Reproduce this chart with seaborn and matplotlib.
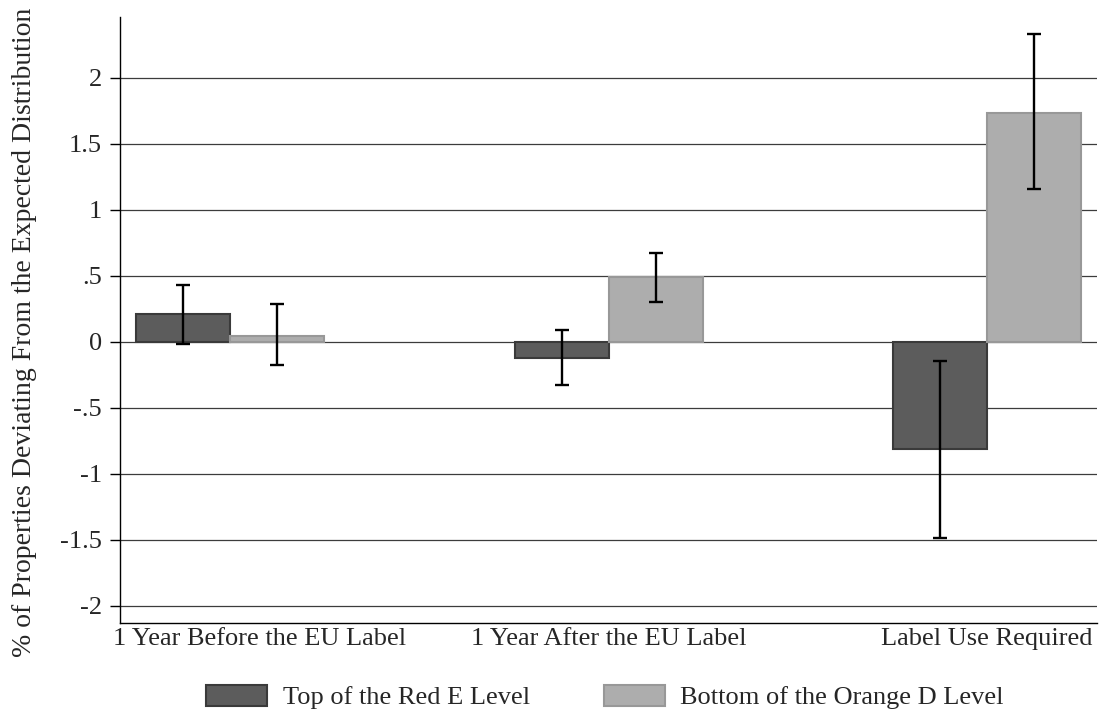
import numpy as np
import pandas as pd
import matplotlib
matplotlib.use("Agg")
import matplotlib.pyplot as plt
import matplotlib.transforms as mtransforms
import seaborn as sns

# datos
periodos = ["1 Year Before the EU Label", "1 Year After the EU Label", "Label Use Required"]
niveles = ["Top of the Red E Level", "Bottom of the Orange D Level"]

red_e = [0.21, -0.12, -0.81]
red_e_lo = [-0.015, -0.33, -1.49]
red_e_hi = [0.43, 0.085, -0.15]

orange_d = [0.045, 0.49, 1.735]
orange_d_lo = [-0.18, 0.30, 1.155]
orange_d_hi = [0.285, 0.675, 2.33]

yticks = [-2, -1.5, -1, -0.5, 0, 0.5, 1, 1.5, 2]
ytick_labels = ["-2", "-1.5", "-1", "-.5", "0", ".5", "1", "1.5", "2"]

df = pd.DataFrame({
    "periodo": periodos * 2,
    "nivel": [niveles[0]] * 3 + [niveles[1]] * 3,
    "valor": red_e + orange_d,
    "lo": red_e_lo + orange_d_lo,
    "hi": red_e_hi + orange_d_hi,
})

sns.set_style("white")
plt.rcParams["font.family"] = ["Liberation Serif", "DejaVu Serif"]
plt.rcParams["font.size"] = 19

colores = {niveles[0]: "#5c5c5c", niveles[1]: "#adadad"}
bordes = {niveles[0]: "#3a3a3a", niveles[1]: "#989898"}

fig = plt.figure(figsize=(11.11, 7.13), dpi=100)
ax = fig.add_axes([0.108, 0.1267, 0.8794, 0.849])

sns.barplot(
    data=df, x="periodo", y="valor", hue="nivel",
    order=periodos, hue_order=niveles,
    palette=colores, width=0.497, errorbar=None,
    linewidth=1.5, ax=ax, zorder=2
)

# bordes y barras de error
for cont, nivel in zip(ax.containers, niveles):
    sub = df[df["nivel"] == nivel].set_index("periodo").loc[periodos]
    xs = []
    for p in cont:
        p.set_edgecolor(bordes[nivel])
        xs.append(p.get_x() + p.get_width() / 2)
    xs = np.array(xs)
    yerr = np.vstack([sub["valor"] - sub["lo"], sub["hi"] - sub["valor"]])
    ax.errorbar(xs, sub["valor"], yerr=yerr, fmt="none", ecolor="black",
                elinewidth=1.7, capsize=4.8, capthick=1.7, zorder=4)

ax.set_xlim(-0.291, 2.29)
ax.set_ylim(-2.129, 2.458)
ax.set_yticks(yticks)
ax.set_yticklabels(ytick_labels)
ax.yaxis.grid(True, color="#3c3c3c", linewidth=0.9)
ax.xaxis.grid(False)
ax.set_axisbelow(True)

for s in ["top", "right"]:
    ax.spines[s].set_visible(False)
for s in ["left", "bottom"]:
    ax.spines[s].set_color("black")
    ax.spines[s].set_linewidth(1.0)

ax.tick_params(axis="y", length=7, width=1.0, color="black", pad=6, direction="out", left=True)
ax.tick_params(axis="x", length=0, pad=4)
ax.set_xlabel("")
ax.set_ylabel("% of Properties Deviating From the Expected Distribution", fontsize=20)
ax.yaxis.set_label_coords(-0.085, 0.48)

# primera etiqueta desplazada como en Stata
lab0 = ax.get_xticklabels()[0]
lab0.set_transform(lab0.get_transform() + mtransforms.ScaledTranslation(0.29, 0, fig.dpi_scale_trans))

ax.legend_.remove()
handles = [ax.containers[0][0], ax.containers[1][0]]
fig.legend(handles, niveles, loc="center", bbox_to_anchor=(0.5446, 0.0225),
           ncol=2, frameon=False, handlelength=2.3, handleheight=0.85,
           handletextpad=0.6, columnspacing=2.8, fontsize=19)

fig.savefig("out.png", dpi=100)
